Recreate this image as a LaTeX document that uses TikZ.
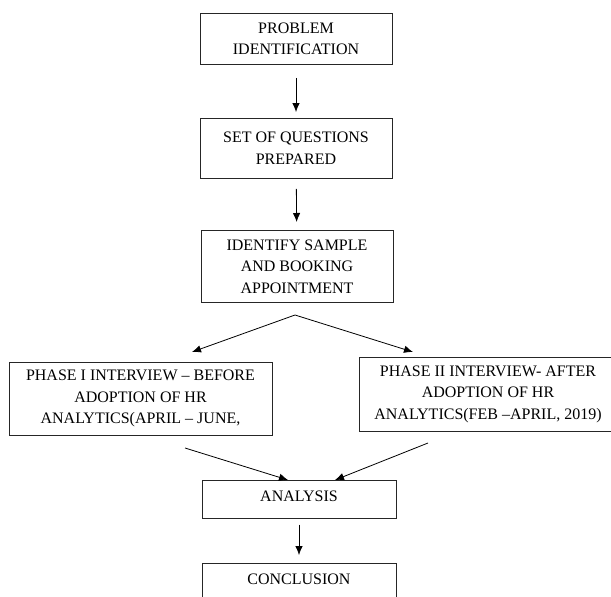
\documentclass[tikz,border=0pt]{standalone}
\usepackage{fontspec}
\setmainfont{Liberation Serif}
\usepackage{tikz}
\usetikzlibrary{arrows.meta}

\begin{document}
\begin{tikzpicture}[x=1pt,y=-1pt,
	block/.style={draw=black!85, line width=0.8pt, align=center, anchor=north, inner sep=0pt,
		font=\fontsize{16}{21.5}\selectfont},
	single/.style={text height=11pt, text depth=6.5pt, inner ysep=10.2pt},
	arr/.style={-{Latex[length=9pt,width=7.5pt]}, line width=0.8pt}]
	\useasboundingbox (0,0) rectangle (611,597);
	
	\node[block, minimum width=192pt, minimum height=51pt] (P) at (296,13) {PROBLEM\\IDENTIFICATION};
	\node[block, minimum width=192pt, minimum height=60pt] (Q) at (296,118) {SET OF QUESTIONS\\PREPARED};
	\node[block, minimum width=192pt, minimum height=72pt] (S) at (297,230) {IDENTIFY SAMPLE\\AND BOOKING\\APPOINTMENT};
	\node[block, minimum width=263pt, minimum height=73pt] (I1) at (140.5,362) {PHASE I INTERVIEW -- BEFORE\\ADOPTION OF HR\\ANALYTICS(APRIL -- JUNE,};
	\node[block, minimum width=258pt, minimum height=74pt] (I2) at (488,357) {PHASE II INTERVIEW- AFTER\\ADOPTION OF HR\\ANALYTICS(FEB --APRIL, 2019)};
	\node[block, single, minimum width=194pt] (A) at (299,480) {ANALYSIS};
	\node[block, single, minimum width=194pt] (C) at (299,563) {CONCLUSION};
	
	\coordinate (fork) at (295,315);
	\coordinate (l1) at (192,352);
	\coordinate (r1) at (413,352);
	\coordinate (l2) at (185,448);
	\coordinate (r2) at (428,443);
	
	\path [arr, shorten <=13pt, shorten >=6pt] (P) edge (Q);
	\path [arr, shorten <=10pt, shorten >=8pt] (Q) edge (S);
	\draw [{Latex[length=9pt,width=7.5pt]}-{Latex[length=9pt,width=7.5pt]}, line width=0.8pt] (l1) -- (fork) -- (r1);
	\draw [arr] (l2) -- ([xshift=-11pt]A.north);
	\draw [arr] (r2) -- ([xshift=36pt]A.north);
	\path [arr, shorten <=6pt, shorten >=8pt] (A) edge (C);
\end{tikzpicture}
\end{document}
